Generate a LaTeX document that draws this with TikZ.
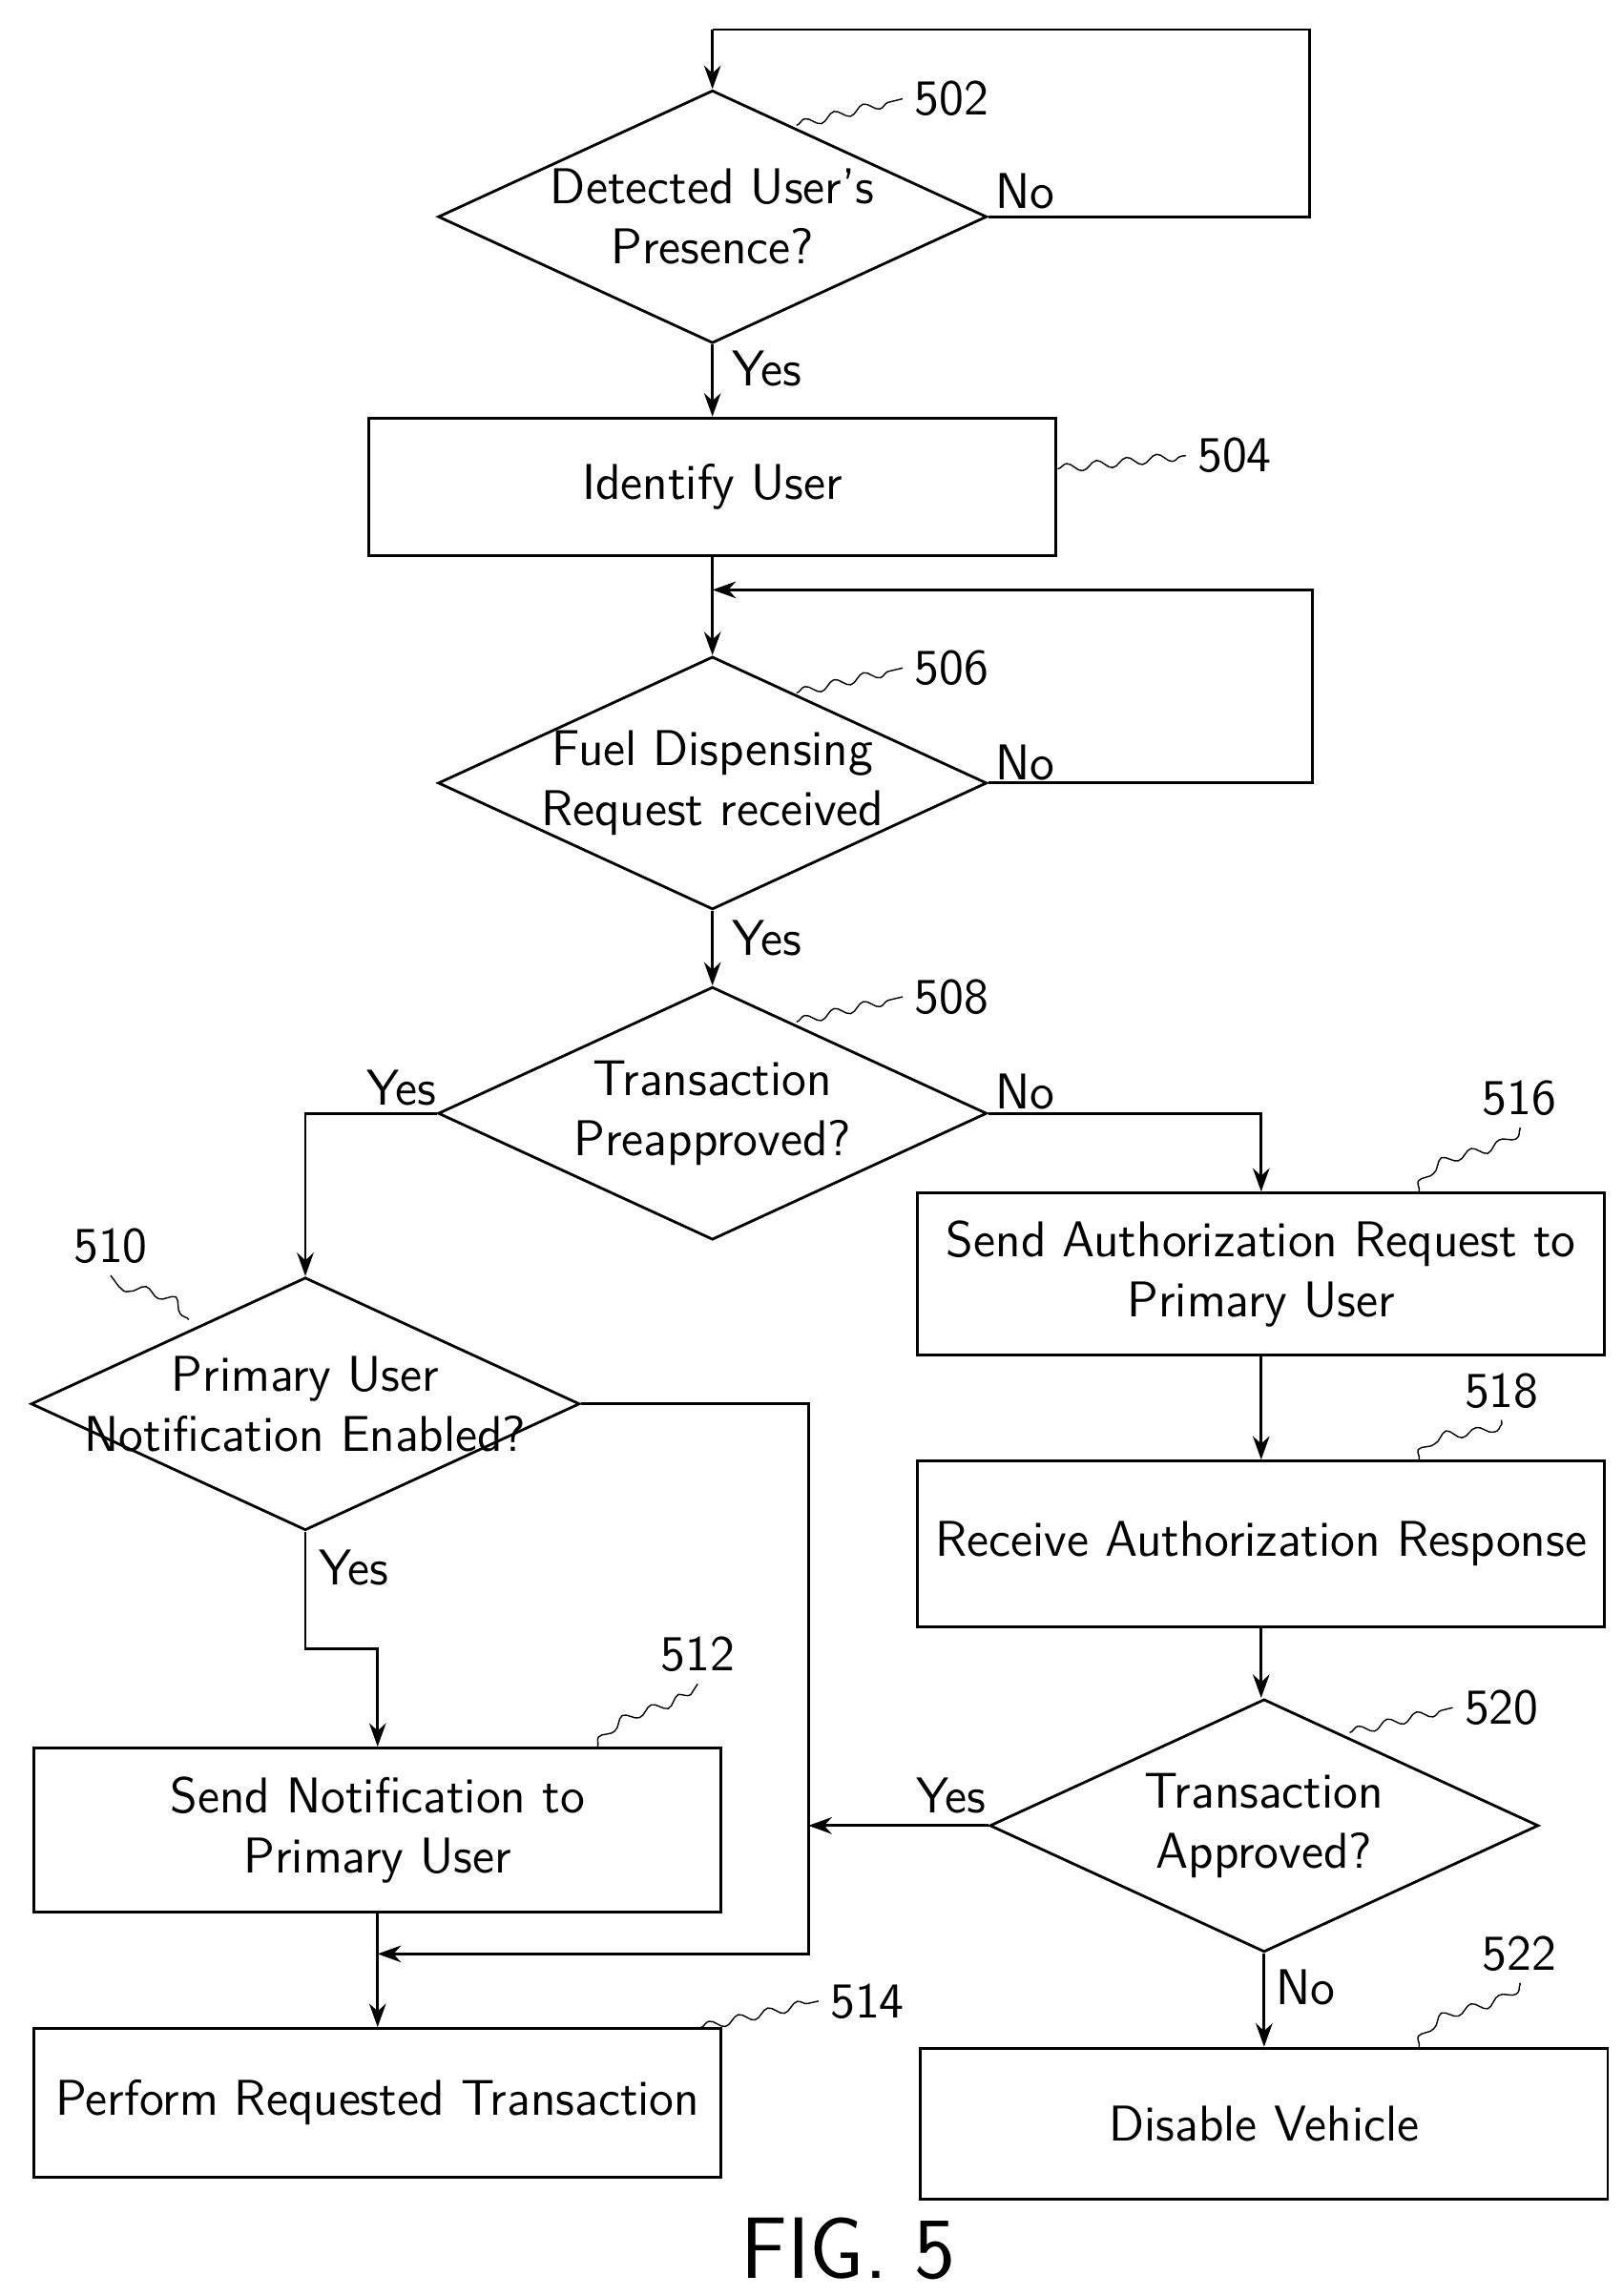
\documentclass[tikz,border=0pt]{standalone}
\usepackage{tikz}
\usetikzlibrary{shapes.geometric,decorations.pathmorphing,arrows.meta}
\begin{document}
\begin{tikzpicture}[
    x=0.01545cm, y=-0.01545cm,
    font=\sffamily\fontsize{15}{18}\selectfont,
    box/.style={
        rectangle,
        draw,
        thick,
        minimum width=7.2cm,
        text centered,
        align=center,
        inner sep=2pt
    },
    dec/.style={
        diamond,
        draw,
        thick,
        minimum width=5.75cm,
        minimum height=2.65cm,
        align=center,
        inner sep=-14pt,
        aspect=2.2
    },
    arrow/.style={
        -{Stealth[length=7pt,width=5pt]},
        thick
    },
    ref/.style={
        decorate,
        decoration={snake,amplitude=1.3pt,segment length=9pt}
    }
]
\useasboundingbox (0,0) rectangle (1100,1557);

% Decisions
\node[dec] (d502) at (483,147) {Detected User's\\Presence?};
\node[dec] (d506) at (483,531) {Fuel Dispensing\\Request received};
\node[dec] (d508) at (483,755) {Transaction\\Preapproved?};
\node[dec] (d510) at (207,952) {Primary User\\Notification Enabled?};
\node[dec] (d520) at (857,1238) {Transaction\\Approved?};

% Boxes
\node[box, minimum height=1.44cm] (b504) at (483,330) {Identify User};
\node[box, minimum height=1.7cm] (b516) at (855,864) {Send Authorization Request to\\Primary User};
\node[box, minimum height=1.74cm] (b518) at (855,1047) {Receive Authorization Response};
\node[box, minimum height=1.72cm] (b512) at (256,1241) {Send Notification to\\Primary User};
\node[box, minimum height=1.56cm] (b514) at (256,1426) {Perform Requested Transaction};
\node[box, minimum height=1.58cm] (b522) at (857,1440) {Disable Vehicle};

% Loops
\coordinate (top502) at (483,20);
\coordinate (top506) at (483,400);
\draw[thick] (d502.east) -- (888,147) -- (888,20) -- (top502);
\draw[arrow] (top502) -- (d502.north);
\draw[thick] (b504.south) -- (top506);
\draw[arrow] (top506) -- (d506.north);
\draw[arrow] (d506.east) -- (890,531) -- (890,400) -- (top506);

% Arrows
\draw[arrow] (d502.south) -- (b504.north);
\draw[arrow] (d506.south) -- (d508.north);
\draw[arrow] (d508.west) -| (d510.north);
\draw[arrow] (d508.east) -| (b516.north);
\draw[arrow] (b516.south) -- (b518.north);
\draw[arrow] (b518.south) -- (b518.south |- d520.north);
\draw[arrow] (d520.south) -- (b522.north);
\draw[arrow] (d510.south) -- (207,1118) -| (b512.north);
\coordinate (join) at (256,1325);
\coordinate (side) at (548,1238);
\draw[arrow] (d510.east) -- (548,952) -- (548,1325) -- (join);
\draw[arrow] (d520.west) -- (side);
\draw[arrow] (b512.south) -- (b514.north);

% Yes / No
\node at (695,130) {No};
\node at (520,250) {Yes};
\node at (695,517) {No};
\node at (520,636) {Yes};
\node at (272,738) {Yes};
\node at (695,740) {No};
\node at (240,1063) {Yes};
\node at (645,1218) {Yes};
\node at (885,1348) {No};

% Reference numerals
\node (n502) at (645,67) {502};
\node (n504) at (837,309) {504};
\node (n506) at (645,453) {506};
\node (n508) at (645,676) {508};
\node (n510) at (75,845) {510};
\node (n512) at (473,1122) {512};
\node (n514) at (588,1357) {514};
\node (n516) at (1030,745) {516};
\node (n518) at (1018,943) {518};
\node (n520) at (1018,1158) {520};
\node (n522) at (1030,1325) {522};
\draw[ref] (540,85) -- (n502.west);
\draw[ref] (717,318) -- (n504.west);
\draw[ref] (540,470) -- (n506.west);
\draw[ref] (540,693) -- (n508.west);
\draw[ref] (128,895) to[out=120,in=-60] (n510.south);
\draw[ref] (405,1185) to[out=60,in=-120] (n512.south);
\draw[ref] (475,1375) -- (n514.west);
\draw[ref] (962,808) to[out=70,in=-110] (n516.south);
\draw[ref] (962,990) to[out=70,in=-110] (n518.south);
\draw[ref] (915,1175) -- (n520.west);
\draw[ref] (962,1388) to[out=70,in=-110] (n522.south);

% Caption
\node[font=\sffamily\fontsize{26}{30}\selectfont] (fig) at (575,1525) {FIG. 5};
\end{tikzpicture}
\end{document}
